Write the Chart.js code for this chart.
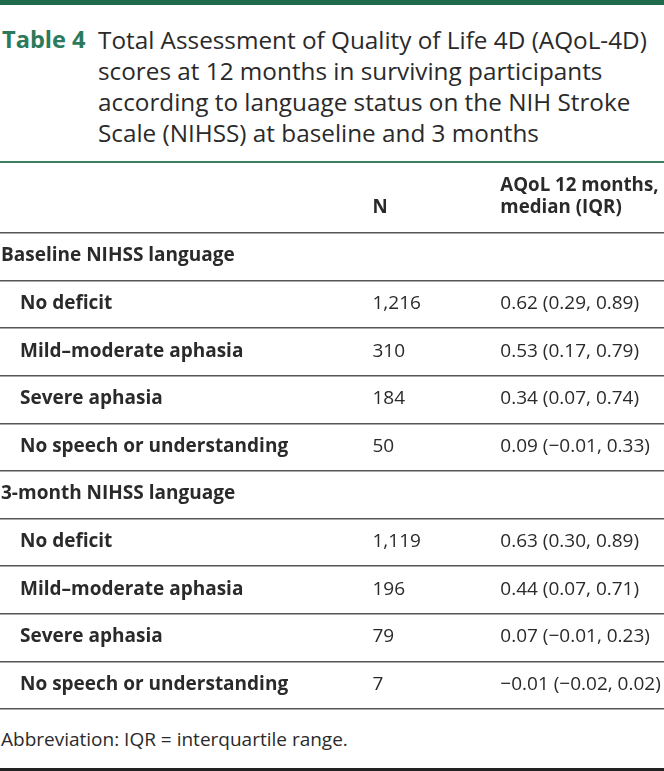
<!DOCTYPE html>
<html>
<head>
<meta charset="utf-8">
<script src="https://cdn.jsdelivr.net/npm/chart.js@4.4.1/dist/chart.umd.min.js"></script>
<style>
  body { margin: 0; width: 664px; height: 771px; position: relative; background: #fff; overflow: hidden; font-family: "Open Sans", sans-serif; color: #2a2a2a; }
  #bar { position: absolute; left: 0; top: 0; width: 664px; height: 5px; background: #1f6b4c; }
  #title { position: absolute; left: 0; top: 24px; width: 664px; font-size: 24.3px; line-height: 31px; }
  #tag { position: absolute; left: 2px; top: 0; color: #2b7a5b; font-weight: 700; font-size: 23.6px; }
  #cap { position: absolute; left: 98px; top: 0; white-space: nowrap; }
  #rule { position: absolute; left: 0; top: 161px; width: 664px; height: 2px; background: #3c7e62; }
  #wrap { position: absolute; left: 0; top: 163px; width: 664px; height: 548px; }
  #foot { position: absolute; left: 1px; top: 727px; font-size: 19px; line-height: 24px; }
  #endrule { position: absolute; left: 0; top: 768px; width: 664px; height: 3px; background: #222; }
</style>
</head>
<body>
<div id="bar"></div>
<div id="title">
  <span id="tag">Table 4</span>
  <span id="cap">Total Assessment of Quality of Life 4D (AQoL-4D)<br>scores at 12 months in surviving participants<br>according to language status on the NIH Stroke<br>Scale (NIHSS) at baseline and 3 months</span>
</div>
<div id="rule"></div>
<div id="wrap"><canvas id="tabla"></canvas></div>
<div id="foot">Abbreviation: IQR = interquartile range.</div>
<div id="endrule"></div>
<script>
// datos de la tabla
const columnHeaders = ['', 'N', ['AQoL 12 months,', 'median (IQR)']];
const groups = ['Baseline NIHSS language', '3-month NIHSS language'];
const categories = ['No deficit', 'Mild–moderate aphasia', 'Severe aphasia', 'No speech or understanding'];
const baselineN = [1216, 310, 184, 50];
const baselineMedian = [0.62, 0.53, 0.34, 0.09];
const baselineQ1 = [0.29, 0.17, 0.07, -0.01];
const baselineQ3 = [0.89, 0.79, 0.74, 0.33];
const month3N = [1119, 196, 79, 7];
const month3Median = [0.63, 0.44, 0.07, -0.01];
const month3Q1 = [0.30, 0.07, -0.01, -0.02];
const month3Q3 = [0.89, 0.71, 0.23, 0.02];

// donde empieza cada columna (en % del ancho)
const colAt = [0.15, 56.1, 75.35];
const indent = 19;
const fontSize = 19;

function fmt(v) {
    let s = Math.abs(v).toFixed(2);
    return (v < 0 ? '\u2212' : '') + s;
}

let rows = [];
let blocks = [
    [groups[0], baselineN, baselineMedian, baselineQ1, baselineQ3],
    [groups[1], month3N, month3Median, month3Q1, month3Q3]
];
for (let b = 0; b < blocks.length; b++) {
    let blk = blocks[b];
    rows.push({ label: blk[0], section: true });
    for (let i = 0; i < categories.length; i++) {
        rows.push({
            label: categories[i],
            section: false,
            n: blk[1][i].toLocaleString('en-US'),
            aqol: fmt(blk[2][i]) + ' (' + fmt(blk[3][i]) + ', ' + fmt(blk[4][i]) + ')'
        });
    }
}

const cellText = {
    id: 'cellText',
    afterDraw(chart) {
        const ctx = chart.ctx;
        const x = chart.scales.x;
        const y = chart.scales.y;
        const top = chart.chartArea.top;
        ctx.save();
        ctx.fillStyle = '#2a2a2a';
        ctx.textAlign = 'left';
        ctx.textBaseline = 'alphabetic';

        // encabezados
        ctx.font = '700 ' + (fontSize - 0.3) + 'px "Open Sans"';
        for (let c = 1; c < columnHeaders.length; c++) {
            let h = columnHeaders[c];
            let lines = Array.isArray(h) ? h : [h];
            let px = x.getPixelForValue(colAt[c]);
            for (let l = 0; l < lines.length; l++) {
                let base = top - 20 - (lines.length - 1 - l) * 22.5;
                ctx.fillText(lines[l], px, base);
            }
        }

        // filas
        for (let i = 0; i < rows.length; i++) {
            let r = rows[i];
            let py = y.getPixelForValue(i) + 4.5;
            ctx.font = '700 ' + fontSize + 'px "Open Sans"';
            let lx = x.getPixelForValue(colAt[0]) + (r.section ? 0 : indent);
            ctx.fillText(r.label, lx, py);
            if (!r.section) {
                ctx.font = '400 ' + fontSize + 'px "Open Sans"';
                ctx.fillText(r.n, x.getPixelForValue(colAt[1]), py);
                ctx.fillText(r.aqol, x.getPixelForValue(colAt[2]), py);
            }
        }
        ctx.restore();
    }
};

const ctx = document.getElementById('tabla');
let tabla = new Chart(ctx, {
    type: 'scatter',
    data: {
        labels: rows.map(r => r.label),
        datasets: []
    },
    options: {
        responsive: true,
        maintainAspectRatio: false,
        animation: false,
        events: [],
        layout: { padding: { top: 70, bottom: 2, left: 0, right: 0 } },
        plugins: { legend: { display: false }, tooltip: { enabled: false } },
        scales: {
            x: { type: 'linear', min: 0, max: 100, display: false },
            y: {
                type: 'category',
                offset: true,
                afterFit: function(s) { s.width = 0; },
                ticks: { display: false },
                border: { display: false },
                grid: { offset: true, color: '#555', lineWidth: 1.5, drawTicks: false }
            }
        }
    },
    plugins: [cellText]
});
</script>
</body>
</html>
